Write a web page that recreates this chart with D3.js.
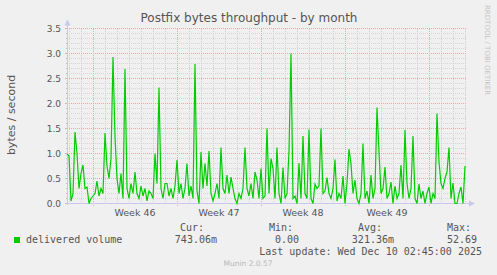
<!DOCTYPE html>
<html>
<head>
<meta charset="utf-8">
<script src="https://cdn.jsdelivr.net/npm/d3@7"></script>
<style>
  html, body { margin: 0; padding: 0; background: #f0f0f0; }
  svg { display: block; }
  text { font-family: "DejaVu Sans", sans-serif; }
  .mono { font-family: "DejaVu Sans Mono", monospace; }
</style>
</head>
<body>
<svg id="chart" width="497" height="275"></svg>
<script>
// ---- data (bytes/second, one sample every 4 hours) ----
const seriesName = "delivered volume";
const stepHours = 4;
const startTime = Date.UTC(2025, 10, 7, 20);   // Nov 7 2025 20:00
const spanHours = 800;
const delivered = [
  0.99, 0.95, 0.05, 0.2, 1.43, 1.0, 0.3, 0.6, 0.77, 0.3,
  0.33, 0.0, 0.1, 0.15, 0.2, 0.45, 0.15, 0.3, 0.2, 1.41,
  0.75, 0.5, 0.9, 2.93, 1.33, 0.5, 0.2, 0.6, 0.1, 2.69,
  0.3, 0.1, 0.4, 0.2, 0.63, 0.2, 0.1, 0.35, 0.15, 0.3,
  0.05, 0.25, 0.2, 0.1, 1.0, 0.4, 2.32, 0.3, 0.1, 0.4,
  0.4, 0.15, 0.3, 0.1, 0.35, 0.87, 0.2, 0.4, 0.1, 0.3,
  0.8, 0.15, 0.35, 0.1, 2.79, 0.25, 0.0, 1.03, 0.3, 0.8,
  0.35, 1.05, 0.2, 0.05, 0.2, 0.4, 0.1, 1.12, 0.3, 0.2,
  0.57, 0.2, 0.53, 0.3, 0.1, 0.0, 0.2, 0.1, 0.3, 1.12,
  0.3, 0.15, 0.4, 0.1, 0.63, 0.47, 0.1, 0.7, 0.1, 0.15,
  1.5, 0.2, 0.9, 0.7, 0.1, 1.12, 0.2, 0.0, 0.72, 0.1,
  0.2, 1.05, 3.0, 0.1, 0.15, 0.0, 0.81, 0.1, 1.35, 0.2,
  0.1, 1.48, 0.1, 0.0, 0.39, 0.3, 0.35, 1.5, 0.2, 0.25,
  0.52, 0.2, 0.1, 0.3, 0.88, 0.05, 0.2, 0.1, 0.55, 0.0,
  0.4, 1.09, 0.8, 0.2, 0.47, 0.1, 0.0, 0.2, 1.2, 0.1,
  0.25, 0.0, 0.57, 0.1, 0.3, 1.92, 1.03, 0.2, 0.3, 0.73,
  0.1, 0.2, 0.43, 0.0, 0.35, 0.1, 0.2, 0.77, 0.1, 1.47,
  0.4, 0.1, 0.3, 1.35, 0.1, 0.0, 0.39, 0.1, 0.25, 0.0,
  0.2, 0.33, 0.0, 0.2, 0.1, 1.8, 0.83, 0.4, 0.3, 0.5,
  0.63, 1.12, 0.1, 0.41, 0.0, 0.0, 0.2, 0.33, 0.0, 0.75
];
const yTicks = [0.0, 0.5, 1.0, 1.5, 2.0, 2.5, 3.0, 3.5];
const legendHeaders = ["Cur:", "Min:", "Avg:", "Max:"];
const legendValues = ["743.06m", "0.00", "321.36m", "52.69"];
const titleText = "Postfix bytes throughput - by month";
const yLabel = "bytes / second";
const lastUpdate = "Last update: Wed Dec 10 02:45:00 2025";
const footer = "Munin 2.0.57";
const sideText = "RRDTOOL / TOBI OETIKER";

// ---- layout ----
const svg = d3.select("#chart");
const plot = { left: 67, right: 467, top: 28.5, bottom: 203.5 };
const lineColor = "#00cc00";
const axisColor = "#c8c8ec";

const startDate = new Date(startTime);
const endDate = new Date(startTime + spanHours * 3600e3);
const x = d3.scaleUtc().domain([startDate, endDate]).range([plot.left, plot.right]);
const y = d3.scaleLinear().domain([0, 3.5]).range([plot.bottom, plot.top]);

const points = delivered.map((v, i) => ({ t: new Date(startTime + i * stepHours * 3600e3), v }));

// ---- grid ----
const g = svg.append("g");
const crisp = v => Math.round(v) + 0.5;

// minor horizontal (every 0.1)
const minorY = d3.range(0, 36).map(i => i / 10).filter(v => Math.round(v * 10) % 5 !== 0);
g.selectAll("line.hmin").data(minorY).join("line")
  .attr("x1", plot.left).attr("x2", plot.right)
  .attr("y1", d => crisp(y(d) - 0.5)).attr("y2", d => crisp(y(d) - 0.5))
  .attr("stroke", "#d6d6d6").attr("stroke-dasharray", "1,1").attr("shape-rendering", "crispEdges");

// minor vertical (days)
const days = d3.utcDay.range(startDate, endDate).filter(d => d.getUTCDay() !== 1);
g.selectAll("line.vmin").data(days).join("line")
  .attr("x1", d => crisp(x(d))).attr("x2", d => crisp(x(d)))
  .attr("y1", plot.top).attr("y2", plot.bottom)
  .attr("stroke", "#d0d0d0").attr("stroke-dasharray", "1,1").attr("shape-rendering", "crispEdges");

// major horizontal
g.selectAll("line.hmaj").data(yTicks).join("line")
  .attr("x1", plot.left - 2).attr("x2", plot.right)
  .attr("y1", d => crisp(y(d) - 0.5)).attr("y2", d => crisp(y(d) - 0.5))
  .attr("stroke", "#e8a8a8").attr("stroke-dasharray", "1,1").attr("shape-rendering", "crispEdges");

// major vertical (weeks)
const mondays = d3.utcMonday.range(startDate, endDate);
g.selectAll("line.vmaj").data(mondays).join("line")
  .attr("x1", d => crisp(x(d))).attr("x2", d => crisp(x(d)))
  .attr("y1", plot.top).attr("y2", plot.bottom + 2)
  .attr("stroke", "#e8a8a8").attr("stroke-dasharray", "1,1").attr("shape-rendering", "crispEdges");

// small y tick marks on axis
g.selectAll("line.ytick").data(d3.range(0, 36).map(i => i / 10)).join("line")
  .attr("x1", plot.left - 1).attr("x2", plot.left + 1)
  .attr("y1", d => crisp(y(d) - 0.5)).attr("y2", d => crisp(y(d) - 0.5))
  .attr("stroke", "#c0c0c0").attr("shape-rendering", "crispEdges");

// ---- y axis labels via d3 axis ----
const yAxis = d3.axisLeft(y).tickValues(yTicks).tickFormat(d3.format(".1f")).tickSize(0).tickPadding(6);
const ya = svg.append("g").attr("transform", `translate(${plot.left},0)`).call(yAxis);
ya.select(".domain").remove();
ya.selectAll("text").attr("font-size", 9).attr("fill", "#555").attr("font-family", "DejaVu Sans");

// ---- x axis labels (weeks, centered mid-week) ----
const weekFmt = d3.utcFormat("Week %V");
const weekLabels = d3.utcMonday.range(d3.utcMonday.offset(startDate, -1), endDate)
  .map(m => ({ m, pos: x(new Date(+m + 3.5 * 864e5)) }))
  .filter(d => d.pos > plot.left + 15 && d.pos < plot.right - 15);
svg.selectAll("text.week").data(weekLabels).join("text")
  .attr("x", d => d.pos).attr("y", 216)
  .attr("text-anchor", "middle").attr("font-size", 9.5).attr("fill", "#555")
  .text(d => weekFmt(d.m));

// ---- axis lines + arrows ----
svg.append("line").attr("x1", plot.left + 0.5).attr("x2", plot.left + 0.5)
  .attr("y1", plot.top - 4).attr("y2", plot.bottom + 1).attr("stroke", axisColor).attr("shape-rendering", "crispEdges");
svg.append("line").attr("x1", plot.left - 1).attr("x2", plot.right + 3)
  .attr("y1", 203.5).attr("y2", 203.5).attr("stroke", axisColor).attr("shape-rendering", "crispEdges");
svg.append("path").attr("d", `M${plot.left - 2.5},${plot.top - 3} L${plot.left + 0.5},${plot.top - 9} L${plot.left + 3.5},${plot.top - 3} Z`).attr("fill", axisColor);
svg.append("path").attr("d", `M${plot.right + 2},200.5 L${plot.right + 8},203.5 L${plot.right + 2},206.5 Z`).attr("fill", axisColor);

// ---- data line ----
const line = d3.line().x(d => x(d.t)).y(d => y(d.v));
svg.append("path").datum(points)
  .attr("d", line).attr("fill", "none").attr("stroke", lineColor).attr("stroke-width", 1.2)
  .attr("stroke-linejoin", "miter");

// ---- title ----
svg.append("text").attr("x", 249).attr("y", 22).attr("text-anchor", "middle")
  .attr("font-size", 12).attr("fill", "#555").text(titleText);

// ---- y label ----
svg.append("text").attr("transform", "translate(15,115) rotate(-90)")
  .attr("text-anchor", "middle").attr("font-size", 11).attr("fill", "#555").text(yLabel);

// ---- side text ----
svg.append("text").attr("transform", "translate(485,5) rotate(90)")
  .attr("text-anchor", "start").attr("font-size", 7).attr("fill", "#c4c4c4").text(sideText);

// ---- legend ----
const legend = svg.append("g").attr("class", "mono").attr("font-size", 10).attr("fill", "#555");
svg.append("rect").attr("x", 14).attr("y", 237).attr("width", 6).attr("height", 6).attr("fill", lineColor);
legend.append("text").attr("class", "mono").attr("x", 26).attr("y", 243).text(seriesName);
const headerX = [204, 293, 382, 471];
const valueX = [217, 299, 394, 477];
legend.selectAll("text.hdr").data(legendHeaders).join("text").attr("class", "mono hdr")
  .attr("x", (d, i) => headerX[i]).attr("y", 231).attr("text-anchor", "end").text(d => d);
legend.selectAll("text.val").data(legendValues).join("text").attr("class", "mono val")
  .attr("x", (d, i) => valueX[i]).attr("y", 243).attr("text-anchor", "end").text(d => d);
legend.append("text").attr("class", "mono").attr("x", 482).attr("y", 255).attr("text-anchor", "end").text(lastUpdate);

svg.append("text").attr("x", 248).attr("y", 266).attr("text-anchor", "middle")
  .attr("font-size", 7.5).attr("fill", "#b8b8b8").text(footer);
</script>
</body>
</html>
